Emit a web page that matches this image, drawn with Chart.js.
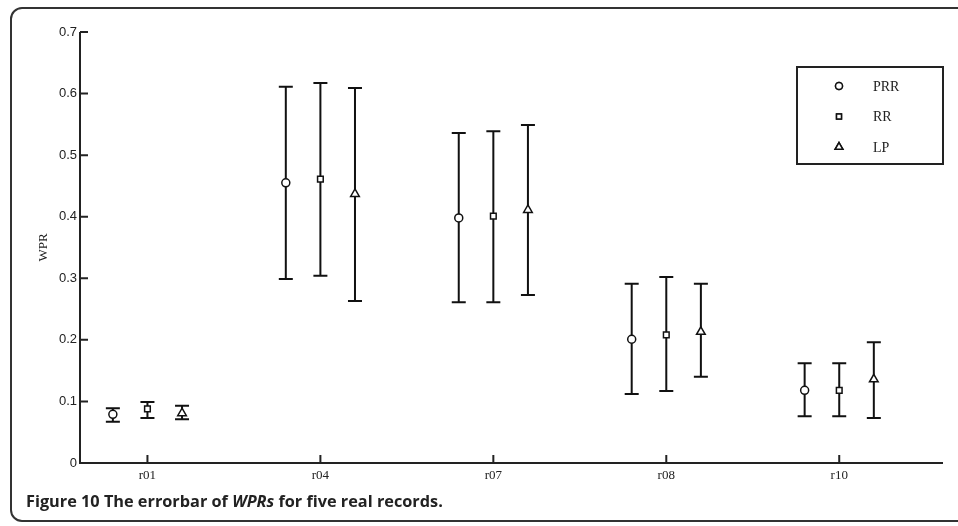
<!DOCTYPE html>
<html>
<head>
<meta charset="utf-8">
<script src="https://cdn.jsdelivr.net/npm/chart.js@4/dist/chart.umd.min.js"></script>
<style>
  html, body { margin: 0; padding: 0; background: #fff; }
  #wrap { position: relative; width: 958px; height: 526px; overflow: hidden; }
  #frame {
    position: absolute; left: 10px; top: 7px; width: 980px; height: 515px;
    border: 2px solid #333; border-radius: 12px; box-sizing: border-box;
  }
  #caption {
    position: absolute; left: 26px; top: 490px;
    font-family: "Open Sans", "Noto Sans", sans-serif; font-weight: bold;
    font-size: 16.3px; color: #222; white-space: nowrap;
  }
  #myChart { position: absolute; left: 0; top: 0; }
</style>
</head>
<body>
<div id="wrap">
  <div id="frame"></div>
  <canvas id="myChart" width="958" height="526"></canvas>
  <div id="caption">Figure 10 The errorbar of <i>WPRs</i> for five real records.</div>
</div>
<script>
const categories = ["r01", "r04", "r07", "r08", "r10"];
const yTicks = [0, 0.1, 0.2, 0.3, 0.4, 0.5, 0.6, 0.7];

const prrMean = [0.079, 0.455, 0.398, 0.201, 0.118];
const prrLow = [0.067, 0.299, 0.261, 0.112, 0.076];
const prrHigh = [0.089, 0.611, 0.536, 0.291, 0.162];

const rrMean = [0.088, 0.461, 0.401, 0.208, 0.118];
const rrLow = [0.073, 0.304, 0.261, 0.117, 0.076];
const rrHigh = [0.099, 0.617, 0.539, 0.302, 0.162];

const lpMean = [0.081, 0.437, 0.411, 0.213, 0.136];
const lpLow = [0.071, 0.263, 0.273, 0.14, 0.073];
const lpHigh = [0.093, 0.609, 0.549, 0.291, 0.196];

const makeSet = function (label, mean, low, high, shift, style, radius) {
  return {
    label: label,
    data: mean.map((v, i) => ({ x: i + 1 + shift, y: v, lo: low[i], hi: high[i] })),
    pointStyle: style,
    pointRadius: radius,
    pointBorderWidth: 1.5,
    borderColor: "#111",
    backgroundColor: "#fff",
    showLine: false,
  };
};

const datasets = [
  makeSet("PRR", prrMean, prrLow, prrHigh, -0.2, "circle", 4),
  makeSet("RR", rrMean, rrLow, rrHigh, 0, "rect", 4),
  makeSet("LP", lpMean, lpLow, lpHigh, 0.2, "triangle", 5),
];

// error bars, inward ticks and the boxed legend
const extras = {
  id: "extras",
  beforeDatasetsDraw(chart) {
    const ctx = chart.ctx;
    const xs = chart.scales.x;
    const ys = chart.scales.y;
    ctx.save();
    ctx.strokeStyle = "#111";
    ctx.lineWidth = 2;
    chart.data.datasets.forEach((ds) => {
      ds.data.forEach((p) => {
        const x = xs.getPixelForValue(p.x);
        const y1 = ys.getPixelForValue(p.lo);
        const y2 = ys.getPixelForValue(p.hi);
        ctx.beginPath();
        ctx.moveTo(x, y1);
        ctx.lineTo(x, y2);
        ctx.moveTo(x - 7, y1);
        ctx.lineTo(x + 7, y1);
        ctx.moveTo(x - 7, y2);
        ctx.lineTo(x + 7, y2);
        ctx.stroke();
      });
    });
    ctx.restore();
  },
  afterDraw(chart) {
    const ctx = chart.ctx;
    const xs = chart.scales.x;
    const ys = chart.scales.y;
    const area = chart.chartArea;
    ctx.save();
    ctx.strokeStyle = "#222";
    ctx.lineWidth = 2;
    ctx.beginPath();
    // axes
    ctx.moveTo(area.left, area.top);
    ctx.lineTo(area.left, area.bottom);
    ctx.lineTo(area.right, area.bottom);
    yTicks.forEach((v) => {
      const y = ys.getPixelForValue(v);
      ctx.moveTo(area.left, y);
      ctx.lineTo(area.left + 8, y);
    });
    categories.forEach((c, i) => {
      const x = xs.getPixelForValue(i + 1);
      ctx.moveTo(x, area.bottom);
      ctx.lineTo(x, area.bottom - 8);
    });
    ctx.stroke();

    // legend box
    const bx = 797, by = 67, bw = 146, bh = 97;
    ctx.lineWidth = 2;
    ctx.strokeStyle = "#222";
    ctx.strokeRect(bx, by, bw, bh);
    ctx.textBaseline = "middle";
    chart.data.datasets.forEach((ds, i) => {
      const ly = by + 19 + i * 30.5;
      ctx.fillStyle = "#fff";
      ctx.strokeStyle = "#111";
      ctx.lineWidth = 1.5;
      Chart.helpers.drawPoint(ctx, {
        pointStyle: ds.pointStyle, radius: ds.pointRadius - 0.5, borderWidth: 1.5,
      }, bx + 42, ly);
      ctx.fill();
      ctx.stroke();
      ctx.fillStyle = "#222";
      ctx.font = "14px Liberation Serif";
      ctx.fillText(ds.label, bx + 76, ly + 1);
    });
    ctx.restore();
  },
};

const config = {
  type: "scatter",
  data: { datasets: datasets },
  options: {
    responsive: false,
    animation: false,
    layout: { padding: { left: 10, top: 32, right: 15, bottom: 0 } },
    plugins: { legend: { display: false }, tooltip: { enabled: false } },
    scales: {
      x: {
        type: "linear",
        min: 0.61,
        max: 5.6,
        afterBuildTicks(scale) {
          scale.ticks = categories.map((c, i) => ({ value: i + 1 }));
        },
        afterFit(scale) { scale.height = 63; },
        grid: { display: false, drawTicks: false },
        border: { display: false },
        ticks: {
          padding: 5,
          color: "#222",
          font: { family: "Liberation Serif", size: 13 },
          callback: (v) => categories[v - 1],
        },
      },
      y: {
        min: 0,
        max: 0.7,
        afterBuildTicks(scale) {
          scale.ticks = yTicks.map((v) => ({ value: v }));
        },
        afterFit(scale) { scale.width = 70; },
        grid: { display: false, drawTicks: false },
        border: { display: false },
        title: {
          display: true,
          text: "WPR",
          color: "#222",
          padding: { top: 26, bottom: 0 },
          font: { family: "Liberation Serif", size: 13 },
        },
        ticks: {
          padding: 3,
          color: "#222",
          font: { family: "Liberation Sans", size: 13 },
          callback: (v) => (v === 0 ? "0" : v.toFixed(1)),
        },
      },
    },
  },
  plugins: [extras],
};

const myChart = new Chart(document.getElementById("myChart"), config);
</script>
</body>
</html>
